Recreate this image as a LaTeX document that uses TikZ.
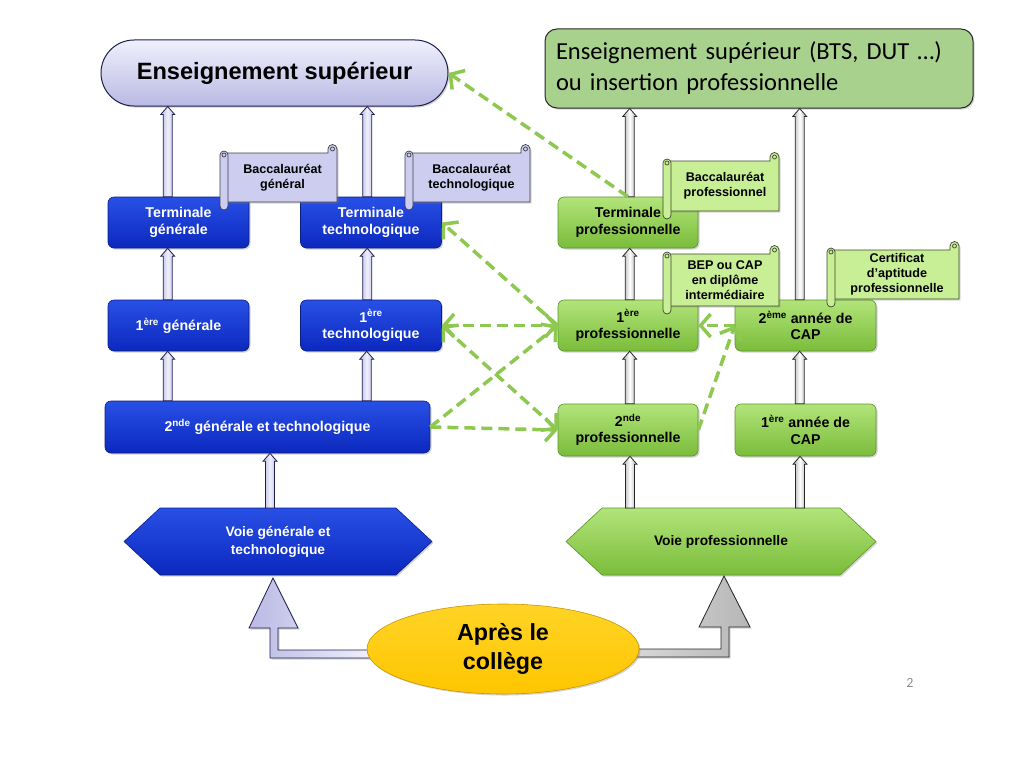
\documentclass[tikz,border=0pt]{standalone}
\usepackage{fontspec}
\setmainfont{Liberation Sans}
\newfontfamily\calfont{Carlito}
\usetikzlibrary{shapes.geometric,arrows.meta,calc,shadows}
\definecolor{blueT}{RGB}{40,80,230}
\definecolor{blueB}{RGB}{12,40,190}
\definecolor{blueD}{RGB}{10,30,130}
\definecolor{greenT}{RGB}{178,228,122}
\definecolor{greenB}{RGB}{122,188,58}
\definecolor{greenD}{RGB}{90,150,40}
\definecolor{lavT}{RGB}{240,240,252}
\definecolor{lavB}{RGB}{185,185,228}
\definecolor{lavF}{RGB}{205,205,240}
\definecolor{lavD}{RGB}{30,30,80}
\definecolor{grayF}{RGB}{215,215,215}
\definecolor{grayD}{RGB}{40,40,40}
\definecolor{topgreen}{RGB}{169,209,142}
\definecolor{scrollgreen}{RGB}{200,238,150}
\definecolor{dgreen}{RGB}{141,200,80}
\definecolor{yel}{RGB}{255,204,0}
\definecolor{yelD}{RGB}{200,150,0}
\definecolor{pnum}{RGB}{140,140,140}
\newcommand\barrow[3]{%
  \path let \p1=#2, \p2=#3 in [#1]
    (\x1-4.5pt,\y1) -- (\x1-4.5pt,\y2-8pt) -- (\x1-7pt,\y2-8pt) -- (\x1,\y2)
    -- (\x1+7pt,\y2-8pt) -- (\x1+4.5pt,\y2-8pt) -- (\x1+4.5pt,\y1) -- cycle;}
\newcommand\scrollbox[7]{%
  \path[draw=#5!30!black, line width=0.7pt, fill=#5, drop shadow={shadow xshift=1.5pt,shadow yshift=-1.5pt,opacity=0.3}]
    (#1+6,#2) -- (#3-9,#2) -- (#3-9,#2-4) arc[start angle=180,end angle=360,radius=4.5]
    -- (#3,#4) -- (#1+6,#4) -- cycle;
  \draw[#5!30!black, line width=0.7pt] (#3-4.5,#2-4) circle[radius=2];
  \path[draw=#5!30!black, line width=0.7pt, fill=#5]
    (#1,#2+2) -- (#1,#4+4) arc[start angle=180,end angle=0,radius=4]
    -- (#1+8,#2+2) arc[start angle=0,end angle=-180,radius=4] -- cycle;
  \draw[#5!30!black, line width=0.7pt] (#1+4,#2+2) circle[radius=2];
  \node[scrolltext] (#6) at ({(#1+8+#3)/2},{(#2+#4)/2}) {#7};}
\begin{document}
\begin{tikzpicture}[x=1pt,y=-1pt,
  shad/.style={drop shadow={shadow xshift=1.5pt,shadow yshift=-1.5pt,opacity=0.35}},
  bluebox/.style={rectangle, rounded corners=6pt, top color=blueT, bottom color=blueB,
    draw=blueD, line width=0.6pt, text=white, font=\bfseries\fontsize{14.2}{16.5}\selectfont,
    align=center, minimum width=141pt, minimum height=51pt, inner sep=2pt, shad},
  greenbox/.style={rectangle, rounded corners=6pt, top color=greenT, bottom color=greenB,
    draw=greenD, line width=0.6pt, text=black, font=\bfseries\fontsize{14.2}{16.5}\selectfont,
    align=center, minimum width=140pt, minimum height=51pt, inner sep=2pt, shad},
  scrolltext/.style={font=\bfseries\fontsize{12.6}{14.8}\selectfont, align=center, text=black, inner sep=1pt},
  lavarrow/.style={left color=lavB, right color=lavB, middle color=lavT, draw=lavD, line width=0.8pt},
  grayarrow/.style={left color=grayF!80!black, right color=grayF!80!black, middle color=white, draw=grayD, line width=0.8pt},
  gdash/.style={draw=dgreen, line width=3.5pt, dash pattern=on 11pt off 6pt},
  >={Straight Barb[length=10pt,width=23pt]}
]
\useasboundingbox (0,0) rectangle (1024,768);

% top boxes
\node[rectangle, rounded corners=33pt, top color=lavT, bottom color=lavB, draw=lavD, line width=1pt,
  minimum width=347pt, minimum height=66pt, font=\bfseries\fontsize{23.6}{26}\selectfont, shad] (es) at (274.5,73) {Enseignement supérieur};
\node[rectangle, rounded corners=12pt, fill=topgreen, draw=grayD, line width=1pt,
  minimum width=428pt, minimum height=79pt, text width=406pt, align=left, inner sep=0pt,
  font=\calfont\fontsize{24.5}{31}\selectfont, shad] (gb) at (759,68.5) {Enseignement supérieur (BTS, DUT …)\\ou insertion professionnelle};

% blue column
\node[bluebox] (tg) at (178.5,222.5) {Terminale\\générale};
\node[bluebox] (tt) at (371,222.5) {Terminale\\technologique};
\node[bluebox] (g1) at (178.5,325.5) {1\textsuperscript{ère} générale};
\node[bluebox] (t1) at (371,325.5) {1\textsuperscript{ère}\\technologique};
\node[bluebox, minimum width=325pt, minimum height=52pt] (gt2) at (267.5,427) {2\textsuperscript{nde} générale et technologique};

% green column
\node[greenbox] (tp) at (628,222.5) {Terminale\\professionnelle};
\node[greenbox] (p1) at (628,325.5) {1\textsuperscript{ère}\\professionnelle};
\node[greenbox, minimum width=141pt] (cap2) at (805.5,325.5) {2\textsuperscript{ème} année de\\CAP};
\node[greenbox, minimum height=52pt] (p2) at (628,430) {2\textsuperscript{nde}\\professionnelle};
\node[greenbox, minimum width=141pt, minimum height=52pt] (cap1) at (805.5,430) {1\textsuperscript{ère} année de\\CAP};

% hexagons
\path[top color=blueT, bottom color=blueB, draw=blueD, line width=0.6pt, shad]
  (124,541.5) -- (160,508) -- (396,508) -- (432,541.5) -- (396,575) -- (160,575) -- cycle;
\node[text=white, font=\bfseries\fontsize{13.8}{18}\selectfont, align=center] (vgt) at (278,542) {Voie générale et\\technologique};
\path[top color=greenT, bottom color=greenB, draw=greenD, line width=0.6pt, shad]
  (566,541.5) -- (602,508) -- (840,508) -- (876,541.5) -- (840,575) -- (602,575) -- cycle;
\node[text=black, font=\bfseries\fontsize{13.8}{16}\selectfont] (vp) at (721,542) {Voie professionnelle};
\coordinate (vgttop) at (278,508);
\coordinate (vptop) at (721,508);

% bottom L arrows
\path[left color=lavB, right color=lavT, draw=lavD, line width=0.8pt, shad]
  (273,578) -- (298,628) -- (278,628) -- (278,650) -- (372,650) -- (372,658) -- (270,658) -- (270,628) -- (249,628) -- cycle;
\path[left color=grayF, right color=grayF!85!black, draw=grayD, line width=0.8pt, shad]
  (724,576) -- (750,627) -- (729,627) -- (729,657) -- (634,657) -- (634,649) -- (721,649) -- (721,627) -- (699,627) -- cycle;
\node[ellipse, top color=yel!85!white, bottom color=yel!92!orange, draw=yelD, line width=0.6pt,
  minimum width=272pt, minimum height=90pt, align=center, font=\bfseries\fontsize{23.3}{29}\selectfont, shad] (col) at (503,649) {Après le\\collège};

% scrolls
\scrollbox{220}{153}{337}{202}{lavF}{bg}{Baccalauréat\\général}
\scrollbox{405}{153}{530}{202}{lavF}{bt}{Baccalauréat\\technologique}
\scrollbox{663}{161}{779}{211}{scrollgreen}{bp}{Baccalauréat\\professionnel}
\scrollbox{663}{254}{779}{306}{scrollgreen}{bep}{BEP ou CAP\\en diplôme\\intermédiaire}
\scrollbox{827}{250}{959}{299}{scrollgreen}{cert}{Certificat\\d’aptitude\\professionnelle}

% vertical block arrows
\barrow{lavarrow}{($(tg.north west)+(60,0)$)}{(es.south)}
\barrow{lavarrow}{($(tt.north west)+(67,0)$)}{(es.south)}
\barrow{lavarrow}{($(g1.north west)+(60,0)$)}{(tg.south)}
\barrow{lavarrow}{($(t1.north west)+(67,0)$)}{(tt.south)}
\barrow{lavarrow}{($(gt2.north west)+(63,0)$)}{(g1.south)}
\barrow{lavarrow}{($(gt2.north west)+(262,0)$)}{(t1.south)}
\barrow{lavarrow}{($(vgttop)+(-8,0)$)}{(gt2.south)}
\barrow{grayarrow}{($(tp.north west)+(72,0)$)}{(gb.south)}
\barrow{grayarrow}{($(cap2.north west)+(65,0)$)}{(gb.south)}
\barrow{grayarrow}{($(p1.north west)+(72,0)$)}{(tp.south)}
\barrow{grayarrow}{($(p2.north west)+(72,0)$)}{(p1.south)}
\barrow{grayarrow}{($(cap1.north west)+(65,0)$)}{(cap2.south)}
\barrow{grayarrow}{($(vptop)+(-91,0)$)}{(p2.south)}
\barrow{grayarrow}{($(vptop)+(79,0)$)}{(cap1.south)}

% dashed green connectors
\draw[gdash,->] (tp.north) -- (es.east);
\draw[gdash,->] (p1.west) -- (tt.east);
\draw[gdash,<->] (t1.east) -- (p1.west);
\draw[gdash,<->] (t1.east) -- (p2.west);
\draw[gdash,->] (gt2.east) -- (p1.west);
\draw[gdash,->] (gt2.east) -- (p2.west);
\draw[gdash,->] (cap2.west) -- (p1.east);
\draw[gdash,->] (p2.east) -- (cap2.west);

\node[font=\calfont\fontsize{14}{16}\selectfont, text=pnum] (pg) at (910,683) {2};
\end{tikzpicture}
\end{document}
